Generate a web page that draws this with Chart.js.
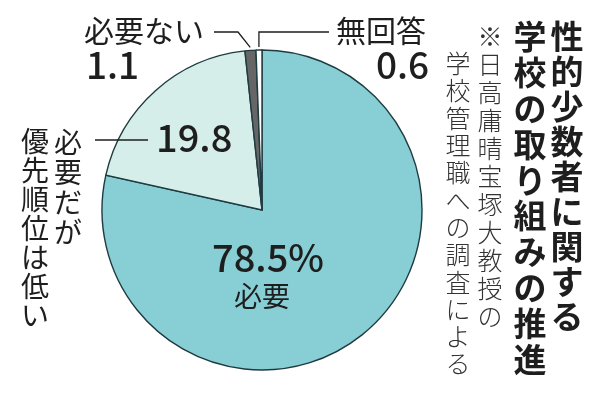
<!DOCTYPE html>
<html>
<head>
<meta charset="utf-8">
<script src="https://cdn.jsdelivr.net/npm/chart.js@4"></script>
<style>
html,body{margin:0;padding:0;background:#fff;}
#wrap{width:604px;height:400px;position:relative;}
</style>
</head>
<body>
<div id="wrap"><canvas id="c" width="604" height="400"></canvas></div>
<script>
const categories = ['必要', '必要だが優先順位は低い', '必要ない', '無回答'];
const values = [78.5, 19.8, 1.1, 0.6];
const valueLabels = ['78.5%', '19.8', '1.1', '0.6'];
const sliceColors = ['#88cfd5', '#d6eee9', '#666666', '#ffffff'];
const titleLines = ['性的少数者に関する', '学校の取り組みの推進'];
const noteLines = ['※日高庸晴宝塚大教授の', '学校管理職への調査による'];
const midLabelLines = ['必要だが', '優先順位は低い'];

const JP = '"Noto Sans CJK JP", "Noto Sans", sans-serif';
const INK = '#1e1e1e';

function vText(ctx, text, cx, top, step) {
  const chars = Array.from(text);
  chars.forEach((ch, i) => ctx.fillText(ch, cx, top + step * i + step / 2));
}

function arcPoint(arc, r) {
  const a = (arc.startAngle + arc.endAngle) / 2;
  return {x: arc.x + Math.cos(a) * r, y: arc.y + Math.sin(a) * r};
}

const labelPlugin = {
  id: 'labels',
  afterDraw(chart) {
    const ctx = chart.ctx;
    const arcs = chart.getDatasetMeta(0).data;
    ctx.save();
    ctx.fillStyle = INK;
    ctx.strokeStyle = INK;
    ctx.lineWidth = 1.3;

    // Leader: 必要ない
    const pNo = arcPoint(arcs[2], arcs[2].outerRadius + 3);
    ctx.beginPath();
    ctx.moveTo(214, 32);
    ctx.lineTo(238, 32);
    ctx.lineTo(pNo.x, pNo.y);
    ctx.stroke();
    // Leader: 無回答
    const pNa = arcPoint(arcs[3], arcs[3].outerRadius + 3);
    ctx.beginPath();
    ctx.moveTo(pNa.x, pNa.y);
    ctx.lineTo(pNa.x, 32);
    ctx.lineTo(329, 32);
    ctx.stroke();
    // Leader: 19.8
    ctx.beginPath();
    ctx.moveTo(95, 140);
    ctx.lineTo(148, 140);
    ctx.stroke();

    ctx.textBaseline = 'middle';
    ctx.textAlign = 'left';
    ctx.font = '400 30px ' + JP;
    ctx.fillText(categories[2], 84, 31);
    ctx.fillText(categories[3], 336, 31);
    ctx.font = '500 37px ' + JP;
    ctx.fillText(valueLabels[2], 86, 65);
    ctx.fillText(valueLabels[3], 376, 65);
    ctx.font = '500 38px ' + JP;
    ctx.fillText(valueLabels[1], 156, 138);

    ctx.textAlign = 'center';
    ctx.font = '500 38px ' + JP;
    ctx.fillText(valueLabels[0], 268, 258);
    ctx.font = '400 28px ' + JP;
    ctx.fillText(categories[0], 262, 296);

    // left vertical label
    ctx.font = '400 28px ' + JP;
    vText(ctx, midLabelLines[0], 68, 127, 30);
    vText(ctx, midLabelLines[1], 35, 127, 29);

    // title
    ctx.font = '700 33px ' + JP;
    vText(ctx, titleLines[0], 567, 19, 35);
    vText(ctx, titleLines[1], 530, 19, 35.8);

    // note
    ctx.fillStyle = '#333';
    ctx.font = '300 25px ' + JP;
    vText(ctx, noteLines[0], 490, 22, 28);
    vText(ctx, noteLines[1], 458, 50, 27.3);
    ctx.restore();
  }
};

new Chart(document.getElementById('c'), {
  type: 'pie',
  data: {
    labels: categories,
    datasets: [{
      data: values,
      backgroundColor: sliceColors,
      borderColor: '#1f3b41',
      borderWidth: 1.4,
      borderJoinStyle: 'miter'
    }]
  },
  options: {
    responsive: false,
    animation: false,
    radius: 160,
    layout: {padding: {left: 60, right: 140, top: 40, bottom: 20}},
    plugins: {legend: {display: false}, tooltip: {enabled: false}}
  },
  plugins: [labelPlugin]
});
</script>
</body>
</html>
